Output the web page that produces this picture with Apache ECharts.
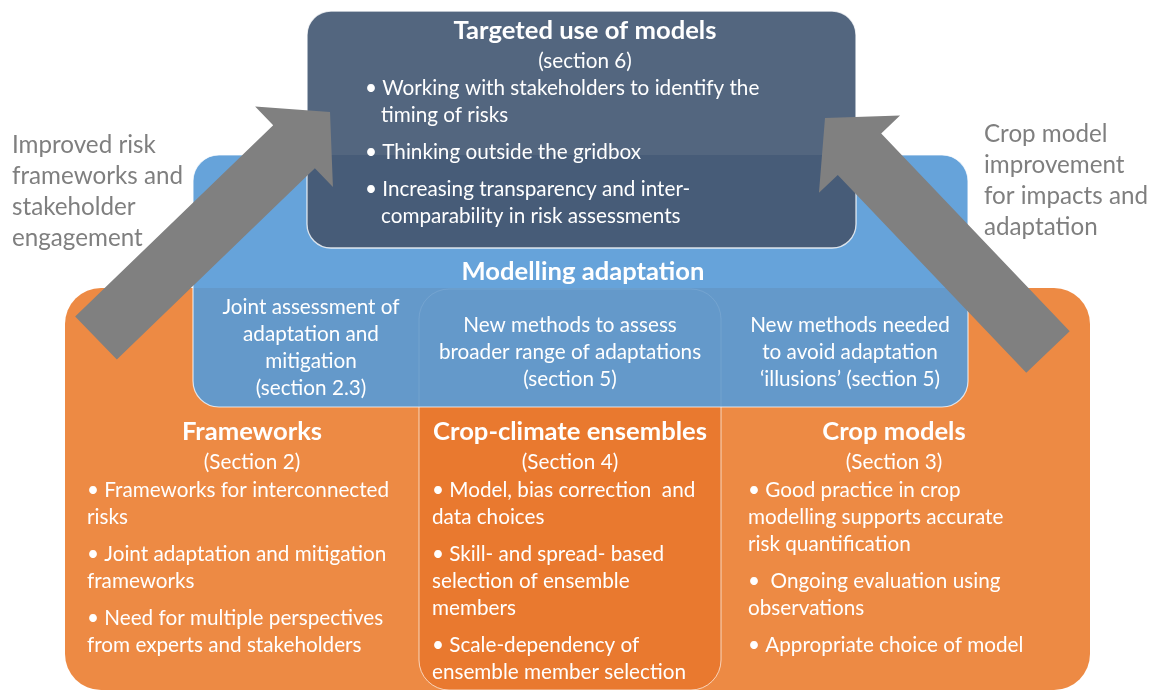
<!DOCTYPE html>
<html>
<head>
<meta charset="utf-8">
<script src="https://cdn.jsdelivr.net/npm/echarts@6/dist/echarts.min.js"></script>
<style>
  html, body { margin: 0; padding: 0; background: #fff; }
  #main { width: 1154px; height: 691px; }
</style>
</head>
<body>
<div id="main"></div>
<script>
// texts of the diagram
const topTitle = 'Targeted use of models';
const topSection = '(section 6)';
const topBullets = [
  ['• Working with stakeholders to identify the', 'timing of risks'],
  ['• Thinking outside the gridbox'],
  ['• Increasing transparency and inter-', 'comparability in risk assessments']
];
const midTitle = 'Modelling adaptation';
const midItems = [
  ['Joint assessment of', 'adaptation and', 'mitigation', '(section 2.3)'],
  ['New methods to assess', 'broader range of adaptations', '(section 5)'],
  ['New methods needed', 'to avoid adaptation', '\u2018illusions\u2019 (section 5)']
];
const baseTitles = ['Frameworks', 'Crop-climate ensembles', 'Crop models'];
const baseSections = ['(Section 2)', '(Section 4)', '(Section 3)'];
const baseBullets = [
  [['• Frameworks for interconnected', 'risks'],
   ['• Joint adaptation and mitigation', 'frameworks'],
   ['• Need for multiple perspectives', 'from experts and stakeholders']],
  [['• Model, bias correction  and', 'data choices'],
   ['• Skill- and spread- based', 'selection of ensemble', 'members'],
   ['• Scale-dependency of', 'ensemble member selection']],
  [['• Good practice in crop', 'modelling supports accurate', 'risk quantification'],
   ['•  Ongoing evaluation using', 'observations'],
   ['• Appropriate choice of model']]
];
const arrowLabels = [
  ['Improved risk', 'frameworks and', 'stakeholder', 'engagement'],
  ['Crop model', 'improvement', 'for impacts and', 'adaptation']
];

const FONT = 'Lato, "Open Sans", sans-serif';
const LINE = 27, GAP = 10;
const BODY = 20.7, TITLE = 25.6, SIDE = 24.2;

function txt(s, x, y, o) {
  return {
    type: 'text', x: x, y: y, z: 10,
    style: Object.assign({
      text: s, fill: '#fff', fontFamily: FONT, fontSize: BODY,
      align: 'center', verticalAlign: 'middle'
    }, o || {})
  };
}

function bulletLines(groups, x, y0, indent) {
  const out = [];
  let y = y0;
  groups.forEach((g) => {
    g.forEach((line, i) => {
      out.push(txt(line, x + (i ? indent : 0), y, { align: 'left' }));
      y += LINE;
    });
    y += GAP;
  });
  return out;
}

function centerLines(lines, x, y0, step, o) {
  return lines.map((s, i) => txt(s, x, y0 + i * step, o));
}

function arrow(tail, tip, shaftHalf, headHalf, headLen) {
  const dx = tip[0] - tail[0], dy = tip[1] - tail[1];
  const L = Math.sqrt(dx * dx + dy * dy);
  const ux = dx / L, uy = dy / L, nx = -uy, ny = ux;
  const bx = tail[0] + ux * (L - headLen), by = tail[1] + uy * (L - headLen);
  const pts = [
    [tail[0] + nx * shaftHalf, tail[1] + ny * shaftHalf],
    [bx + nx * shaftHalf, by + ny * shaftHalf],
    [bx + nx * headHalf, by + ny * headHalf],
    tip,
    [bx - nx * headHalf, by - ny * headHalf],
    [bx - nx * shaftHalf, by - ny * shaftHalf],
    [tail[0] - nx * shaftHalf, tail[1] - ny * shaftHalf]
  ];
  return { type: 'polygon', z: 20, shape: { points: pts }, style: { fill: '#808080' } };
}

const els = [];
// orange base
els.push({ type: 'rect', z: 1, shape: { x: 65, y: 288, width: 1025, height: 402, r: 36 },
  style: { fill: '#ED8A44' } });
els.push({ type: 'rect', z: 2, shape: { x: 419, y: 289, width: 302, height: 401, r: 30 },
  style: { fill: '#E9792F', stroke: 'rgba(255,255,255,0.6)', lineWidth: 1 } });
// blue box
els.push({ type: 'rect', z: 3, shape: { x: 193, y: 155, width: 775, height: 252, r: 26 },
  style: { fill: '#66A3DA' } });
els.push({ type: 'rect', z: 4, shape: { x: 193, y: 288, width: 775, height: 119, r: [0, 0, 26, 26] },
  style: { fill: '#6499CA' } });
els.push({ type: 'rect', z: 5, shape: { x: 419, y: 289, width: 302, height: 401, r: 30 },
  style: { fill: 'none', stroke: 'rgba(255,255,255,0.1)', lineWidth: 1 } });
els.push({ type: 'rect', z: 5, shape: { x: 193, y: 155, width: 775, height: 252, r: 26 },
  style: { fill: 'none', stroke: 'rgba(255,255,255,0.75)', lineWidth: 1.2 } });
// dark box
els.push({ type: 'rect', z: 6, shape: { x: 307, y: 11, width: 549, height: 237, r: 24 },
  style: { fill: '#53667F' } });
els.push({ type: 'rect', z: 7, shape: { x: 307, y: 155, width: 549, height: 93, r: [0, 0, 24, 24] },
  style: { fill: '#475C78' } });
els.push({ type: 'rect', z: 8, shape: { x: 307, y: 11, width: 549, height: 237, r: 24 },
  style: { fill: 'none', stroke: 'rgba(255,255,255,0.8)', lineWidth: 1.3 } });

// texts: top box
els.push(txt(topTitle, 585, 31, { fontSize: TITLE, fontWeight: 'bold' }));
els.push(txt(topSection, 585, 61));
els.push(...bulletLines(topBullets, 365, 88, 16));
// blue box
els.push(txt(midTitle, 583, 272, { fontSize: TITLE, fontWeight: 'bold' }));
const midX = [311, 570, 850];
midItems.forEach((lines, i) => {
  els.push(...centerLines(lines, midX[i], lines.length === 4 ? 307 : 325, 27));
});
// base columns
const baseX = [252, 570, 894];
const baseLeft = [87, 432, 748];
baseTitles.forEach((t, i) => {
  els.push(txt(t, baseX[i], 432, { fontSize: TITLE, fontWeight: 'bold' }));
  els.push(txt(baseSections[i], baseX[i], 462));
  els.push(...bulletLines(baseBullets[i], baseLeft[i], 490, 0));
});
// side labels
els.push(...centerLines(arrowLabels[0], 12, 145, 31, { align: 'left', fill: '#7F7F7F', fontSize: SIDE }));
els.push(...centerLines(arrowLabels[1], 984, 134, 31, { align: 'left', fill: '#7F7F7F', fontSize: SIDE }));
// arrows
els.push(arrow([96, 338], [330, 112], 30, 56, 50));
els.push(arrow([1048, 352], [825, 118], 30, 56, 50));

const chart = echarts.init(document.getElementById('main'), null, { renderer: 'canvas' });
chart.setOption({
  backgroundColor: '#ffffff',
  animation: false,
  graphic: { elements: els }
});
</script>
</body>
</html>
